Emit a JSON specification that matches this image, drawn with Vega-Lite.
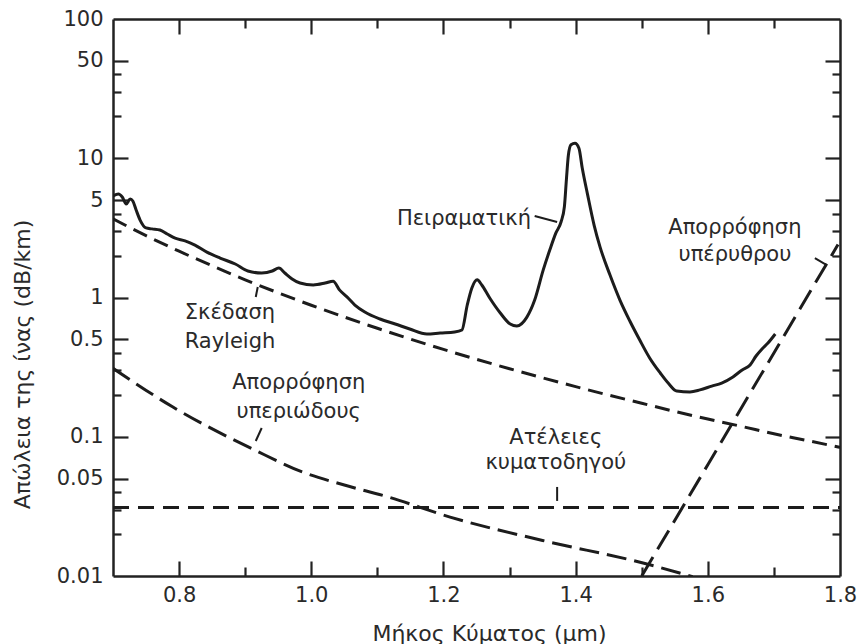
{
  "$schema": "https://vega.github.io/schema/vega-lite/v6.json",
  "width": 727,
  "height": 557,
  "autosize": "none",
  "padding": {"left": 113, "top": 19, "right": 18, "bottom": 68},
  "background": "white",
  "config": {
    "view": {"stroke": null},
    "font": "DejaVu Sans",
    "axis": {
      "grid": false,
      "domainColor": "#222222",
      "domainWidth": 2.5,
      "tickColor": "#222222",
      "tickWidth": 2.2,
      "labelFont": "DejaVu Sans",
      "labelFontSize": 21,
      "labelColor": "#2a2a2a",
      "titleFont": "DejaVu Sans",
      "titleFontSize": 22,
      "titleFontWeight": "normal",
      "titleColor": "#2a2a2a"
    }
  },
  "datasets": {
    "exp": [
      {"x":0.700,"y":5.36},{"x":0.708,"y":5.54},{"x":0.714,"y":5.27},{"x":0.720,"y":4.69},{"x":0.726,"y":5.10},{"x":0.730,"y":4.93},{"x":0.735,"y":4.25},{"x":0.741,"y":3.60},{"x":0.750,"y":3.16},{"x":0.759,"y":3.11},{"x":0.771,"y":3.05},{"x":0.782,"y":2.86},{"x":0.794,"y":2.67},{"x":0.809,"y":2.55},{"x":0.824,"y":2.38},{"x":0.842,"y":2.12},{"x":0.862,"y":1.92},{"x":0.885,"y":1.74},{"x":0.904,"y":1.55},{"x":0.925,"y":1.50},{"x":0.941,"y":1.55},{"x":0.951,"y":1.63},{"x":0.960,"y":1.50},{"x":0.971,"y":1.36},{"x":0.983,"y":1.27},{"x":1.003,"y":1.23},{"x":1.021,"y":1.27},{"x":1.033,"y":1.31},{"x":1.043,"y":1.13},{"x":1.054,"y":1.01},{"x":1.066,"y":0.883},{"x":1.081,"y":0.787},{"x":1.104,"y":0.701},{"x":1.127,"y":0.645},{"x":1.149,"y":0.594},{"x":1.175,"y":0.547},{"x":1.195,"y":0.556},{"x":1.217,"y":0.565},{"x":1.228,"y":0.584},{"x":1.236,"y":0.883},{"x":1.243,"y":1.17},{"x":1.251,"y":1.34},{"x":1.258,"y":1.23},{"x":1.270,"y":0.992},{"x":1.286,"y":0.774},{"x":1.301,"y":0.645},{"x":1.311,"y":0.624},{"x":1.326,"y":0.72},{"x":1.338,"y":0.959},{"x":1.351,"y":1.58},{"x":1.361,"y":2.2},{"x":1.370,"y":2.9},{"x":1.378,"y":3.5},{"x":1.383,"y":4.5},{"x":1.386,"y":7.0},{"x":1.389,"y":10.5},{"x":1.393,"y":12.5},{"x":1.399,"y":12.8},{"x":1.405,"y":11.8},{"x":1.410,"y":8.5},{"x":1.418,"y":5.5},{"x":1.428,"y":3.3},{"x":1.437,"y":2.3},{"x":1.452,"y":1.45},{"x":1.467,"y":0.959},{"x":1.482,"y":0.678},{"x":1.497,"y":0.495},{"x":1.512,"y":0.368},{"x":1.528,"y":0.287},{"x":1.540,"y":0.243},{"x":1.553,"y":0.213},{"x":1.573,"y":0.210},{"x":1.588,"y":0.217},{"x":1.606,"y":0.231},{"x":1.621,"y":0.243},{"x":1.638,"y":0.269},{"x":1.652,"y":0.302},{"x":1.664,"y":0.328},{"x":1.673,"y":0.380},{"x":1.682,"y":0.427},{"x":1.691,"y":0.471},{"x":1.702,"y":0.547}
    ],
    "rayleigh": [
      {"x":0.70,"y":3.67},{"x":0.75,"y":2.78},{"x":0.80,"y":2.15},{"x":0.85,"y":1.69},{"x":0.90,"y":1.34},{"x":0.95,"y":1.08},{"x":1.00,"y":0.88},{"x":1.05,"y":0.724},{"x":1.10,"y":0.601},{"x":1.15,"y":0.503},{"x":1.20,"y":0.424},{"x":1.25,"y":0.360},{"x":1.30,"y":0.308},{"x":1.35,"y":0.265},{"x":1.40,"y":0.229},{"x":1.45,"y":0.199},{"x":1.50,"y":0.174},{"x":1.55,"y":0.152},{"x":1.60,"y":0.134},{"x":1.65,"y":0.119},{"x":1.70,"y":0.105},{"x":1.75,"y":0.094},{"x":1.80,"y":0.0838}
    ],
    "uv": [
      {"x":0.700,"y":0.31},{"x":0.790,"y":0.164},{"x":0.915,"y":0.080},{"x":0.990,"y":0.055},{"x":1.050,"y":0.045},{"x":1.116,"y":0.037},{"x":1.210,"y":0.0265},{"x":1.350,"y":0.018},{"x":1.502,"y":0.0124},{"x":1.577,"y":0.0099}
    ],
    "wg": [
      {"x":0.70,"y":0.031},{"x":1.80,"y":0.031}
    ],
    "ir": [
      {"x":1.500,"y":0.0100},{"x":1.600,"y":0.063},{"x":1.700,"y":0.40},{"x":1.797,"y":2.4}
    ],
    "leaders": [
      {"x":1.338,"y":3.85,"x2":1.372,"y2":3.49},
      {"x":1.762,"y":1.92,"x2":1.780,"y2":1.71},
      {"x":0.916,"y":1.008,"x2":0.919,"y2":1.19},
      {"x":0.916,"y":0.0932,"x2":0.925,"y2":0.1156},
      {"x":1.372,"y":0.0436,"x2":1.372,"y2":0.0346}
    ],
    "labels": [
      {"x":1.231,"y":3.66,"t":"Πειραματική"},
      {"x":1.641,"y":3.16,"t":"Απορρόφηση"},
      {"x":1.641,"y":2.02,"t":"υπέρυθρου"},
      {"x":0.877,"y":0.774,"t":"Σκέδαση"},
      {"x":0.877,"y":0.479,"t":"Rayleigh"},
      {"x":0.981,"y":0.243,"t":"Απορρόφηση"},
      {"x":0.981,"y":0.1505,"t":"υπεριώδους"},
      {"x":1.370,"y":0.098,"t":"Ατέλειες"},
      {"x":1.370,"y":0.0648,"t":"κυματοδηγού"}
    ]
  },
  "resolve": {"axis": {"x": "independent", "y": "independent"}},
  "layer": [
    {
      "data": {"name": "exp"},
      "mark": {"type": "line", "color": "#1c1c1c", "strokeWidth": 3, "interpolate": "monotone", "clip": true},
      "encoding": {
        "x": {"field": "x", "type": "quantitative",
          "scale": {"domain": [0.7, 1.8], "nice": false, "zero": false},
          "axis": {"orient": "bottom", "title": "Μήκος Κύματος (μm)",
            "values": [0.8,1.0,1.2,1.4,1.6,1.8],
            "format": ".1f", "ticks": false,
            "labelPadding": 8,
            "labelFlush": false,
            "titleX": 376, "titleY": 57, "titleBaseline": "middle", "titleAlign": "center"}},
        "y": {"field": "y", "type": "quantitative",
          "scale": {"type": "log", "domain": [0.01, 100], "nice": false},
          "axis": {"orient": "left", "title": "Απώλεια της ίνας (dB/km)",
            "values": [0.01,0.05,0.1,0.5,1,5,10,50,100],
            "format": "~g", "ticks": false,
            "labelPadding": 10,
            "labelFlush": false,
            "titleX": -91, "titleY": 345, "titleBaseline": "middle", "titleAlign": "center"}}
      }
    },
    {
      "data": {"name": "rayleigh"},
      "mark": {"type": "line", "color": "#1c1c1c", "strokeWidth": 3, "strokeDash": [15, 8], "interpolate": "monotone", "clip": true},
      "encoding": {
        "x": {"field": "x", "type": "quantitative",
          "axis": {"orient": "top", "offset": -557, "title": null, "labels": false, "domain": false,
            "values": [0.8,1.0,1.2,1.4,1.6], "tickSize": 15}},
        "y": {"field": "y", "type": "quantitative",
          "axis": {"orient": "right", "offset": -727, "title": null, "labels": false, "domain": false,
            "values": [0.05,0.1,0.5,1,5,10,50], "tickSize": 15}}
      }
    },
    {
      "data": {"name": "uv"},
      "mark": {"type": "line", "color": "#1c1c1c", "strokeWidth": 3, "strokeDash": [20, 8], "interpolate": "monotone", "clip": true},
      "encoding": {
        "x": {"field": "x", "type": "quantitative",
          "axis": {"orient": "top", "offset": -557, "title": null, "labels": false, "domain": false,
            "values": [0.9,1.1,1.3,1.5,1.7], "tickSize": 9}},
        "y": {"field": "y", "type": "quantitative",
          "axis": {"orient": "right", "offset": -727, "title": null, "labels": false, "domain": false,
            "values": [0.02,0.03,0.04,0.2,0.3,0.4,2,3,4,20,30,40], "tickSize": 8}}
      }
    },
    {
      "data": {"name": "wg"},
      "mark": {"type": "line", "color": "#1c1c1c", "strokeWidth": 3, "strokeDash": [16, 9], "clip": true},
      "encoding": {
        "x": {"field": "x", "type": "quantitative",
          "axis": {"orient": "bottom", "offset": -557, "title": null, "labels": false, "domain": true,
            "values": [0.8,1.0,1.2,1.4,1.6], "tickSize": 15}},
        "y": {"field": "y", "type": "quantitative",
          "axis": {"orient": "left", "offset": -727, "title": null, "labels": false, "domain": true,
            "values": [0.05,0.1,0.5,1,5,10,50], "tickSize": 15}}
      }
    },
    {
      "data": {"name": "ir"},
      "mark": {"type": "line", "color": "#1c1c1c", "strokeWidth": 3, "strokeDash": [22, 9], "clip": true},
      "encoding": {
        "x": {"field": "x", "type": "quantitative",
          "axis": {"orient": "bottom", "offset": -557, "title": null, "labels": false, "domain": false,
            "values": [0.9,1.1,1.3,1.5,1.7], "tickSize": 9}},
        "y": {"field": "y", "type": "quantitative",
          "axis": {"orient": "left", "offset": -727, "title": null, "labels": false, "domain": false,
            "values": [0.02,0.03,0.04,0.2,0.3,0.4,2,3,4,20,30,40], "tickSize": 8}}
      }
    },
    {
      "data": {"name": "leaders"},
      "mark": {"type": "rule", "color": "#1c1c1c", "strokeWidth": 2},
      "encoding": {
        "x": {"field": "x", "type": "quantitative", "axis": null},
        "y": {"field": "y", "type": "quantitative", "axis": null},
        "x2": {"field": "x2"},
        "y2": {"field": "y2"}
      }
    },
    {
      "data": {"name": "labels"},
      "mark": {"type": "text", "font": "DejaVu Sans", "fontSize": 21, "color": "#2a2a2a", "align": "center", "baseline": "middle"},
      "encoding": {
        "x": {"field": "x", "type": "quantitative", "axis": null},
        "y": {"field": "y", "type": "quantitative", "axis": null},
        "text": {"field": "t"}
      }
    }
  ]
}
